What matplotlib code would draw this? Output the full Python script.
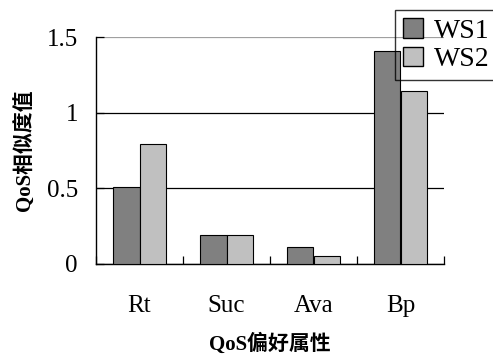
import numpy as np
import matplotlib.pyplot as plt
from matplotlib.patches import Patch

categories = ["Rt", "Suc", "Ava", "Bp"]
ws1 = [0.51, 0.19, 0.115, 1.41]
ws2 = [0.79, 0.19, 0.053, 1.14]
series_names = ["WS1", "WS2"]
yticks = [0, 0.5, 1, 1.5]
ytick_labels = ["0", "0.5", "1", "1.5"]

serif = "Liberation Serif"
cjk = [serif, "Noto Sans CJK SC"]

fig = plt.figure(figsize=(4.93, 3.54), dpi=100)
ax = fig.add_axes([96 / 493, 1 - 264 / 354, 348 / 493, 227 / 354])

x = np.arange(len(categories))
w = 0.3
ax.bar(x - w / 2, ws1, w, color="#808080", edgecolor="black", linewidth=0.8, zorder=3)
ax.bar(x + w / 2, ws2, w, color="#c0c0c0", edgecolor="black", linewidth=0.8, zorder=3)

ax.set_xlim(-0.5, len(categories) - 0.5)
ax.set_ylim(0, 1.5)

ax.set_yticks(yticks)
ax.set_yticklabels(ytick_labels, family=serif, fontsize=18)
ax.yaxis.grid(True, color="black", linewidth=0.9, zorder=0)
ax.yaxis.get_gridlines()[-1].set_color("#a0a0a0")
ax.tick_params(axis="y", direction="in", length=6, pad=13, width=0.9)

ax.set_xticks(x)
ax.set_xticklabels(categories, family=serif, fontsize=18)
ax.set_xticks(np.arange(len(categories) + 1) - 0.5, minor=True)
ax.tick_params(axis="x", which="major", length=0, pad=22)
ax.tick_params(axis="x", which="minor", direction="in", length=6, width=0.9)

for s in ["top", "right"]:
    ax.spines[s].set_visible(False)
for s in ["left", "bottom"]:
    ax.spines[s].set_linewidth(1.0)

ax.set_xlabel("QoS偏好属性", family=cjk, fontsize=15, fontweight="bold", labelpad=12)
ax.set_ylabel("QoS相似度值", family=cjk, fontsize=15, fontweight="bold", labelpad=8)

handles = [Patch(facecolor="#808080", edgecolor="black"),
           Patch(facecolor="#c0c0c0", edgecolor="black")]
leg = fig.legend(handles, series_names, loc="upper left",
                 bbox_to_anchor=(395 / 493, 1 - 10 / 354),
                 prop={"family": serif, "size": 20}, frameon=True, fancybox=False,
                 borderpad=0.3, handlelength=0.7, handleheight=0.7, handletextpad=0.4,
                 labelspacing=0.1, borderaxespad=0)
leg.get_frame().set_facecolor("none")
leg.get_frame().set_edgecolor("black")
leg.get_frame().set_linewidth(1.0)

fig.savefig("out.png", dpi=100)
